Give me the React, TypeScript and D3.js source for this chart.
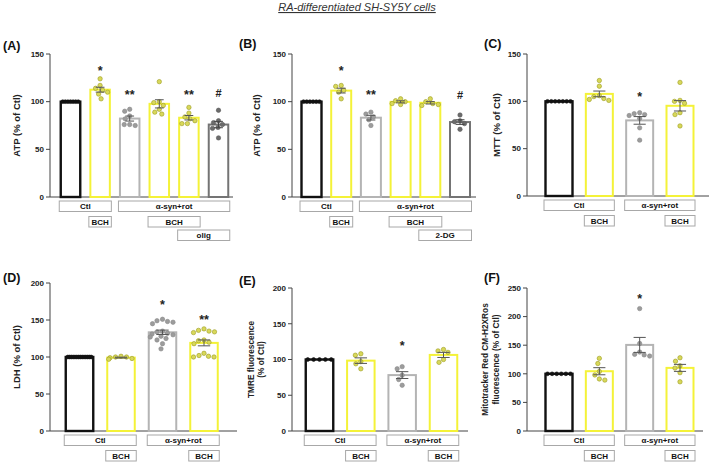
import React from 'react';
import * as d3 from 'd3';

// ---------- data ----------
const rep = (v: number, n: number) => Array.from({ length: n }, () => v);

// (A) ATP, oligomycin
const atpA_ctl = rep(100, 7);
const atpA_bch = [124, 117, 114, 112, 110, 108, 103];
const atpA_syn = [92, 90, 85, 82, 76, 76, 75];
const atpA_synBch = [121, 100, 99, 96, 92, 89, 87];
const atpA_synBchOlig = [94, 88, 84, 82, 80, 77, 77];
const atpA_synOlig = [91, 80, 78, 76, 73, 72, 62];

// (B) ATP, 2-deoxyglucose
const atpB_ctl = rep(100, 6);
const atpB_bch = [117, 116, 112, 110, 103];
const atpB_syn = [89, 87, 84, 81, 75];
const atpB_synBch = [103, 101, 100, 98, 97];
const atpB_synBch2dg = [103, 100, 98, 97, 96];
const atpB_syn2dg = [86, 80, 79, 77, 71];

// (C) MTT
const mtt_ctl = rep(100, 7);
const mtt_bch = [122, 116, 106, 105, 103, 102, 101];
const mtt_syn = [88, 87, 86, 85, 82, 72, 59];
const mtt_synBch = [120, 101, 100, 98, 88, 86, 74];

// (D) LDH
const ldh_ctl = rep(100, 14);
const ldh_bch = [101, 100, 100, 99, 98, 97];
const ldh_syn = [151, 149, 148, 147, 145, 135, 134, 132, 131, 130, 128, 127, 125, 123, 118, 111];
const ldh_synBch = [138, 136, 135, 134, 133, 123, 122, 120, 118, 105, 102, 101, 100, 100];

// (E) TMRE
const tmre_ctl = rep(100, 5);
const tmre_bch = [108, 106, 97, 94, 87];
const tmre_syn = [90, 87, 78, 72, 64];
const tmre_synBch = [114, 112, 110, 100, 96];

// (F) MitoTracker Red CM-H2XRos
const ros_ctl = rep(100, 6);
const ros_bch = [127, 118, 104, 98, 91, 89];
const ros_syn = [214, 153, 138, 134, 133, 131];
const ros_synBch = [128, 122, 114, 110, 102, 86];

// tick values
const ticks150 = [0, 50, 100, 150];
const ticks200 = [0, 50, 100, 150, 200];
const ticks250 = [0, 50, 100, 150, 200, 250];

// significance marks: [group index, symbol, value at symbol centre]
const marksA: [number, string, number][] = [[1, '*', 135], [2, '**', 110], [4, '**', 110], [5, '#', 109]];
const marksB: [number, string, number][] = [[1, '*', 135], [2, '**', 110], [5, '#', 107]];
const marksC: [number, string, number][] = [[2, '*', 108]];
const marksD: [number, string, number][] = [[2, '*', 175], [3, '**', 154]];
const marksE: [number, string, number][] = [[2, '*', 123]];
const marksF: [number, string, number][] = [[2, '*', 236]];

// treatment boxes: [label, first group, last group, row]
const boxesA: [string, number, number, number][] = [
  ['Ctl', 0, 1, 0], ['α-syn+rot', 2, 5, 0], ['BCH', 1, 1, 1], ['BCH', 3, 4, 1], ['olig', 4, 5, 2],
];
const boxesB: [string, number, number, number][] = [
  ['Ctl', 0, 1, 0], ['α-syn+rot', 2, 5, 0], ['BCH', 1, 1, 1], ['BCH', 3, 4, 1], ['2-DG', 4, 5, 2],
];
const boxes4: [string, number, number, number][] = [
  ['Ctl', 0, 1, 0], ['α-syn+rot', 2, 3, 0], ['BCH', 1, 1, 1], ['BCH', 3, 3, 1],
];

// ---------- styles ----------
type Kind = 'ctl' | 'bch' | 'syn' | 'dark';
const STYLE: Record<Kind, { bar: string; dot: string; dotStroke: string; err: string; sw: number }> = {
  ctl: { bar: '#111111', dot: '#111111', dotStroke: '#111111', err: '#111111', sw: 2.4 },
  bch: { bar: '#f4f238', dot: '#d8d85a', dotStroke: '#9c9c22', err: '#555555', sw: 2 },
  syn: { bar: '#b4b4b4', dot: '#9c9c9c', dotStroke: '#8a8a8a', err: '#555555', sw: 2 },
  dark: { bar: '#747474', dot: '#6c6c6c', dotStroke: '#5a5a5a', err: '#444444', sw: 2 },
};

const FONT = 'Arial, "Liberation Sans", Helvetica, sans-serif';

interface PanelCfg {
  letter: string; lx: number; ly: number;
  yLabel: string[]; labelX: number[];
  axisX: number; xEnd: number; y0: number; yTop: number; yMax: number; ticks: number[];
  cx0: number; cx1: number; barW: number;
  groups: { values: number[]; kind: Kind }[];
  marks: [number, string, number][];
  boxes: [string, number, number, number][];
}

const panels: PanelCfg[] = [
  {
    letter: '(A)', lx: 3, ly: 50, yLabel: ['ATP (% of Ctl)'], labelX: [17],
    axisX: 50, xEnd: 233, y0: 197, yTop: 54, yMax: 150, ticks: ticks150,
    cx0: 70.5, cx1: 218.5, barW: 19.5,
    groups: [
      { values: atpA_ctl, kind: 'ctl' }, { values: atpA_bch, kind: 'bch' }, { values: atpA_syn, kind: 'syn' },
      { values: atpA_synBch, kind: 'bch' }, { values: atpA_synBchOlig, kind: 'bch' }, { values: atpA_synOlig, kind: 'dark' },
    ],
    marks: marksA, boxes: boxesA,
  },
  {
    letter: '(B)', lx: 239, ly: 48, yLabel: ['ATP (% of Ctl)'], labelX: [257],
    axisX: 292, xEnd: 476, y0: 197, yTop: 54, yMax: 150, ticks: ticks150,
    cx0: 311.5, cx1: 460, barW: 20,
    groups: [
      { values: atpB_ctl, kind: 'ctl' }, { values: atpB_bch, kind: 'bch' }, { values: atpB_syn, kind: 'syn' },
      { values: atpB_synBch, kind: 'bch' }, { values: atpB_synBch2dg, kind: 'bch' }, { values: atpB_syn2dg, kind: 'dark' },
    ],
    marks: marksB, boxes: boxesB,
  },
  {
    letter: '(C)', lx: 484, ly: 48, yLabel: ['MTT (% of Ctl)'], labelX: [497],
    axisX: 527, xEnd: 709, y0: 196, yTop: 54, yMax: 150, ticks: ticks150,
    cx0: 559, cx1: 680, barW: 27,
    groups: [
      { values: mtt_ctl, kind: 'ctl' }, { values: mtt_bch, kind: 'bch' },
      { values: mtt_syn, kind: 'syn' }, { values: mtt_synBch, kind: 'bch' },
    ],
    marks: marksC, boxes: boxes4,
  },
  {
    letter: '(D)', lx: 3, ly: 282, yLabel: ['LDH (% of Ctl)'], labelX: [17],
    axisX: 50, xEnd: 237, y0: 431, yTop: 283, yMax: 200, ticks: ticks200,
    cx0: 79.5, cx1: 204, barW: 27.5,
    groups: [
      { values: ldh_ctl, kind: 'ctl' }, { values: ldh_bch, kind: 'bch' },
      { values: ldh_syn, kind: 'syn' }, { values: ldh_synBch, kind: 'bch' },
    ],
    marks: marksD, boxes: boxes4,
  },
  {
    letter: '(E)', lx: 239, ly: 285, yLabel: ['TMRE fluorescence', '(% of Ctl)'], labelX: [251, 261],
    axisX: 292, xEnd: 468, y0: 431, yTop: 288, yMax: 200, ticks: ticks200,
    cx0: 319.5, cx1: 443.5, barW: 27.5,
    groups: [
      { values: tmre_ctl, kind: 'ctl' }, { values: tmre_bch, kind: 'bch' },
      { values: tmre_syn, kind: 'syn' }, { values: tmre_synBch, kind: 'bch' },
    ],
    marks: marksE, boxes: boxes4,
  },
  {
    letter: '(F)', lx: 484, ly: 282, yLabel: ['Mitotracker Red CM-H2XRos', 'fluorescence (% of Ctl)'], labelX: [485, 496],
    axisX: 527, xEnd: 703, y0: 431, yTop: 288, yMax: 250, ticks: ticks250,
    cx0: 559, cx1: 680, barW: 27,
    groups: [
      { values: ros_ctl, kind: 'ctl' }, { values: ros_bch, kind: 'bch' },
      { values: ros_syn, kind: 'syn' }, { values: ros_synBch, kind: 'bch' },
    ],
    marks: marksF, boxes: boxes4,
  },
];

// Beeswarm-style horizontal offsets for the replicate dots of one bar.
function swarm(ys: number[], barW: number, d: number): number[] {
  const n = ys.length;
  const allSame = ys.every((v) => Math.abs(v - ys[0]) < 0.01);
  if (allSame) {
    const span = barW - 4;
    return ys.map((_, i) => (n === 1 ? 0 : -span / 2 + (span * i) / (n - 1)));
  }
  const order = d3.range(n).sort((a, b) => ys[a] - ys[b]);
  const placed: { x: number; y: number }[] = [];
  const xs = new Array(n).fill(0);
  const half = barW / 2 - 1.5;
  for (const i of order) {
    const y = ys[i];
    let best = 0;
    for (let k = 0; k < 80; k++) {
      const off = (k % 2 === 0 ? 1 : -1) * Math.ceil(k / 2) * 0.5;
      const ok = placed.every((p) => Math.hypot(p.x - off, p.y - y) >= d);
      if (ok) { best = off; break; }
    }
    best = Math.max(-half, Math.min(half, best));
    xs[i] = best;
    placed.push({ x: best, y });
  }
  return xs;
}

function Panel({ cfg }: { cfg: PanelCfg }) {
  const y = d3.scaleLinear().domain([0, cfg.yMax]).range([cfg.y0, cfg.yTop]);
  const x = d3.scalePoint<number>().domain(d3.range(cfg.groups.length)).range([cfg.cx0, cfg.cx1]);
  const bw = cfg.barW;
  const midY = (cfg.y0 + cfg.yTop) / 2;
  const rowTop = [cfg.y0 + 4, cfg.y0 + 19.5, cfg.y0 + 33];

  return (
    <g>
      <text x={cfg.lx} y={cfg.ly} fontFamily={FONT} fontWeight="bold" fontSize={12.5} fill="#111">{cfg.letter}</text>
      {cfg.yLabel.map((t, i) => (
        <text key={i} transform={`translate(${cfg.labelX[i] + 3},${midY}) rotate(-90)`} textAnchor="middle"
          fontFamily={FONT} fontWeight="bold" fontSize={cfg.yLabel.length > 1 ? 8.3 : 9.5} fill="#222">{t}</text>
      ))}
      {/* axes */}
      <line x1={cfg.axisX} x2={cfg.axisX} y1={y(cfg.yMax)} y2={cfg.y0} stroke="#444" strokeWidth={1} />
      <line x1={cfg.axisX} x2={cfg.xEnd} y1={cfg.y0} y2={cfg.y0} stroke="#444" strokeWidth={1} />
      {cfg.ticks.map((t) => (
        <g key={t}>
          <line x1={cfg.axisX - 4} x2={cfg.axisX} y1={y(t)} y2={y(t)} stroke="#444" strokeWidth={1} />
          <text x={cfg.axisX - 6} y={y(t) + 2.8} textAnchor="end" fontFamily={FONT} fontWeight="bold" fontSize={8} fill="#222">{t}</text>
        </g>
      ))}
      {/* bars, error bars, dots */}
      {cfg.groups.map((g, gi) => {
        const st = STYLE[g.kind];
        const cx = x(gi)!;
        const m = d3.mean(g.values)!;
        const sd = d3.deviation(g.values) ?? 0;
        const sem = sd / Math.sqrt(g.values.length);
        const ys = g.values.map((v) => y(v));
        const offs = swarm(ys, bw, 5.3);
        const cap = bw * 0.45;
        return (
          <g key={gi}>
            <rect x={cx - bw / 2} y={y(m)} width={bw} height={cfg.y0 - y(m)} fill="#fff" stroke={st.bar} strokeWidth={st.sw} />
            {g.values.map((v, i) => (
              <circle key={i} cx={cx + offs[i]} cy={ys[i]} r={g.kind === 'ctl' ? 1.9 : 2.2}
                fill={st.dot} stroke={st.dotStroke} strokeWidth={0.6} />
            ))}
            {sem > 0 && (
              <g stroke={st.err} strokeWidth={1}>
                <line x1={cx} x2={cx} y1={y(m - sem)} y2={y(m + sem)} />
                <line x1={cx - cap / 2} x2={cx + cap / 2} y1={y(m + sem)} y2={y(m + sem)} />
                <line x1={cx - cap / 2} x2={cx + cap / 2} y1={y(m - sem)} y2={y(m - sem)} />
              </g>
            )}
          </g>
        );
      })}
      {/* significance */}
      {cfg.marks.map(([gi, s, v], i) => (
        <text key={i} x={x(gi)!} y={y(v) + (s === '#' ? 4 : 7)} textAnchor="middle" fontFamily={FONT}
          fontWeight="bold" fontSize={s === '#' ? 11 : 12.5} fill="#222">{s}</text>
      ))}
      {/* treatment boxes */}
      {cfg.boxes.map(([label, a, b, row], i) => {
        const x1 = x(a)! - bw / 2 - 1.5;
        const x2 = x(b)! + bw / 2 + 1.5;
        const top = rowTop[row];
        return (
          <g key={i}>
            <rect x={x1} y={top} width={x2 - x1} height={10.5} fill="#fff" stroke="#a8a8a8" strokeWidth={1} />
            <text x={(x1 + x2) / 2} y={top + 8.2} textAnchor="middle" fontFamily={FONT} fontWeight="bold"
              fontSize={8} fill="#111">{label}</text>
          </g>
        );
      })}
    </g>
  );
}

export default function App() {
  return (
    <svg width={709} height={462} viewBox="0 0 709 462"
      style={{ position: 'absolute', left: 0, top: 0, background: '#fff', display: 'block' }}>
      <rect width={709} height={462} fill="#fff" />
      <text x={357} y={11} textAnchor="middle" fontFamily={FONT} fontStyle="italic" fontSize={11}
        fill="#333" textDecoration="underline">RA-differentiated SH-SY5Y cells</text>
      {panels.map((p) => <Panel key={p.letter} cfg={p} />)}
    </svg>
  );
}
